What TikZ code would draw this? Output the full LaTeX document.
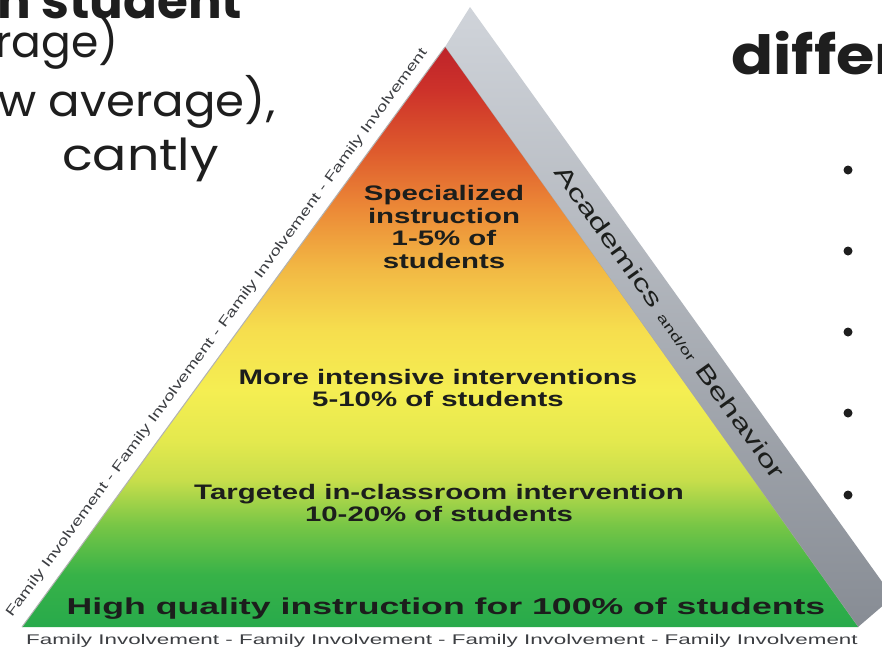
\documentclass[tikz,border=0pt]{standalone}
\usepackage{fontspec}
\setmainfont{Liberation Sans}
\newfontfamily\pyrA[FakeStretch=1.4]{Liberation Sans}
\newfontfamily\pyrB[FakeStretch=1.55]{Liberation Sans}
\newfontfamily\pyrC[FakeStretch=1.6]{Liberation Sans}
\newfontfamily\pyrD[FakeStretch=1.5]{Liberation Sans}
\newfontfamily\handA{Poppins}
\newfontfamily\handB[FakeStretch=1.06]{Poppins}
\newfontfamily\handD[FakeStretch=1.15]{Poppins}
\definecolor{pg0}{RGB}{40,170,75}
\definecolor{pg1}{RGB}{55,178,72}
\definecolor{pg2}{RGB}{120,198,70}
\definecolor{pg3}{RGB}{200,222,75}
\definecolor{pg4}{RGB}{228,233,78}
\definecolor{pg5}{RGB}{245,238,82}
\definecolor{pg6}{RGB}{246,222,78}
\definecolor{pg7}{RGB}{242,185,68}
\definecolor{pg8}{RGB}{236,138,55}
\definecolor{pg9}{RGB}{222,90,45}
\definecolor{pg10}{RGB}{205,50,42}
\definecolor{pg11}{RGB}{190,35,42}
\definecolor{txt}{RGB}{28,30,28}
\definecolor{famtxt}{RGB}{60,62,66}
\definecolor{bandtop}{RGB}{208,212,218}
\definecolor{bandbot}{RGB}{135,140,148}
\definecolor{handtxt}{RGB}{30,30,30}
\pgfdeclareverticalshading{pyrshade}{100bp}{color(0bp)=(pg0); color(25bp)=(pg0); color(29.5bp)=(pg1); color(33.8bp)=(pg2); color(37.7bp)=(pg3); color(41.1bp)=(pg4); color(45.4bp)=(pg5); color(50.6bp)=(pg6); color(55.8bp)=(pg7); color(61bp)=(pg8); color(66.1bp)=(pg9); color(71.3bp)=(pg10); color(75bp)=(pg11); color(100bp)=(pg11)}
\tikzset{
  tiertext/.style={text=txt, align=center, inner sep=0pt, font=\pyrA\bfseries\fontsize{21}{22.5}\selectfont},
  famtext/.style={text=famtxt, inner sep=0pt},
  handline/.style={text=handtxt, anchor=base west, inner sep=0pt},
  bulletdot/.style={circle, fill=handtxt, inner sep=0pt, minimum size=9pt}
}
\begin{document}
\begin{tikzpicture}[x=1pt,y=-1pt]
\useasboundingbox (0,0) rectangle (882,649);
\clip (0,0) rectangle (882,649);
\fill[white] (0,0) rectangle (882,649);
% coordinates of the pyramid
\coordinate (apex) at (445,47);
\coordinate (bl) at (22,627);
\coordinate (br) at (858,627);
\coordinate (gtop) at (470,7);
\coordinate (gbot) at (893,597);
% grey side band
\shade[top color=bandtop, bottom color=bandbot] (apex) -- (gtop) -- (gbot) -- (br) -- cycle;
\draw[gray!70, line width=0.8pt] (apex) -- (br);
% front face
\shade[shading=pyrshade] (apex) -- (bl) -- (br) -- cycle;
\draw[gray!60, line width=1pt] (apex) -- (bl);
% tier texts
\node[tiertext] (t1) at (444,227) {Specialized\\instruction\\1-5\% of\\students};
\node[tiertext] (t2) at (438,388) {More intensive interventions\\5-10\% of students};
\node[tiertext] (t3) at (439,503) {Targeted in-classroom intervention\\10-20\% of students};
\node[text=txt, inner sep=0pt, font=\pyrB\bfseries\fontsize{23}{25}\selectfont] (t4) at (446,609) {High quality instruction for 100\% of students};
% family involvement
\node[famtext, font=\pyrC\fontsize{14}{15}\selectfont] (fb) at (442,641) {Family Involvement - Family Involvement - Family Involvement - Family Involvement};
\node[famtext, rotate=53.7, font=\pyrA\fontsize{13.5}{14}\selectfont] (fl) at (217,333) {Family Involvement - Family Involvement - Family Involvement - Family Involvement};
% band label
\node[text=txt, inner sep=0pt, rotate=-54.5, font=\pyrD\fontsize{23}{24}\selectfont] (band) at (670,322) {Academics {\fontsize{13}{14}\selectfont and/or} Behavior};
% handwritten slide text
\node[handline, font=\handA\bfseries\fontsize{50}{52}\selectfont] (h0) at (-3,18) {n student};
\node[handline, font=\handA\fontsize{44}{46}\selectfont] (h1) at (-5,57) {rage)};
\node[handline, font=\handB\fontsize{44}{46}\selectfont] (h2) at (-2,116) {w average),};
\node[handline, font=\handD\fontsize{44}{46}\selectfont] (h3) at (62,170) {cantly};
\node[handline, font=\handD\bfseries\fontsize{54}{56}\selectfont] (h4) at (731,74) {differ};
% bullets
\node[bulletdot] (b1) at (848,170) {};
\node[bulletdot] (b2) at (848,251) {};
\node[bulletdot] (b3) at (848,332) {};
\node[bulletdot] (b4) at (848,413) {};
\node[bulletdot] (b5) at (848,495) {};
\end{tikzpicture}
\end{document}
